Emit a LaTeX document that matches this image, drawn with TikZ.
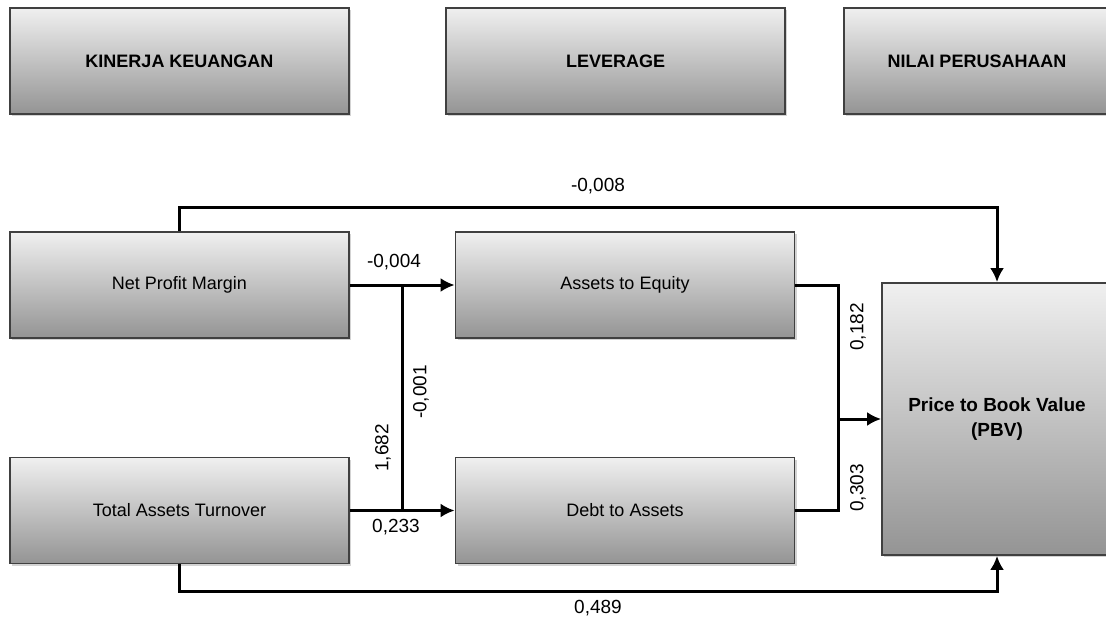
\documentclass[tikz,border=0pt]{standalone}
\usepackage{fontspec}
\setmainfont{Liberation Sans}
\usetikzlibrary{arrows.meta,shadows}

\begin{document}
\begin{tikzpicture}[x=0.5pt,y=-0.5pt,
  box/.style={draw=black!75,line width=0.9pt,top color=black!6,bottom color=black!42,
    drop shadow={shadow xshift=1pt,shadow yshift=-1pt,opacity=.35},
    minimum width=169.5pt,minimum height=53pt,inner sep=0pt,
    font=\fontsize{9}{11}\selectfont},
  head/.style={box,font=\fontsize{9}{11}\selectfont\bfseries},
  link/.style={line width=1.5pt},
  arr/.style={link,-{Latex[length=7pt,width=7pt]}},
  lbl/.style={font=\fontsize{9.5}{11}\selectfont,inner sep=1pt}]
\useasboundingbox (0,0) rectangle (1106,622);

% headings
\node[head] (kk) at (179.5,61) {KINERJA KEUANGAN};
\node[head] (lev) at (615.5,61) {LEVERAGE};
\node[head,minimum width=133pt] (nilai) at (977,61) {NILAI PERUSAHAAN};

% variables
\node[box] (npm) at (179.5,285) {Net Profit Margin};
\node[box] (tat) at (179.5,510.5) {Total Assets Turnover};
\node[box] (ae) at (625,285) {Assets to Equity};
\node[box] (da) at (625,510.5) {Debt to Assets};
\node[box,minimum width=115pt,minimum height=136pt,align=center,
  font=\fontsize{9.5}{12.5}\selectfont\bfseries] (pbv) at (997,419) {Price to Book Value\\(PBV)};

\coordinate (jl1) at (402,285);
\coordinate (jl2) at (402,510.5);
\coordinate (jr) at (838,419);

\draw[arr] (npm) -- (ae);
\draw[arr] (tat) -- (da);
\draw[link] (jl1) -- (jl2);
\draw[link] (ae.east) -| (jr) |- (da.east);
\draw[arr] (jr) -- (pbv);
\draw[arr] (npm.north) -- ++(0,-24) -| (pbv.north);
\draw[arr] (tat.south) -- ++(0,27.5) -| (pbv.south);

% coefficients
\node[lbl] (c1) at (598,186) {-0,008};
\node[lbl] (c2) at (394,262) {-0,004};
\node[lbl] (c3) at (396,527) {0,233};
\node[lbl,rotate=90] (c4) at (421,392) {-0,001};
\node[lbl,rotate=90] (c5) at (383,448) {1,682};
\node[lbl,rotate=90] (c6) at (858,327) {0,182};
\node[lbl,rotate=90] (c7) at (858,488) {0,303};
\node[lbl] (c8) at (598,608) {0,489};
\end{tikzpicture}
\end{document}
